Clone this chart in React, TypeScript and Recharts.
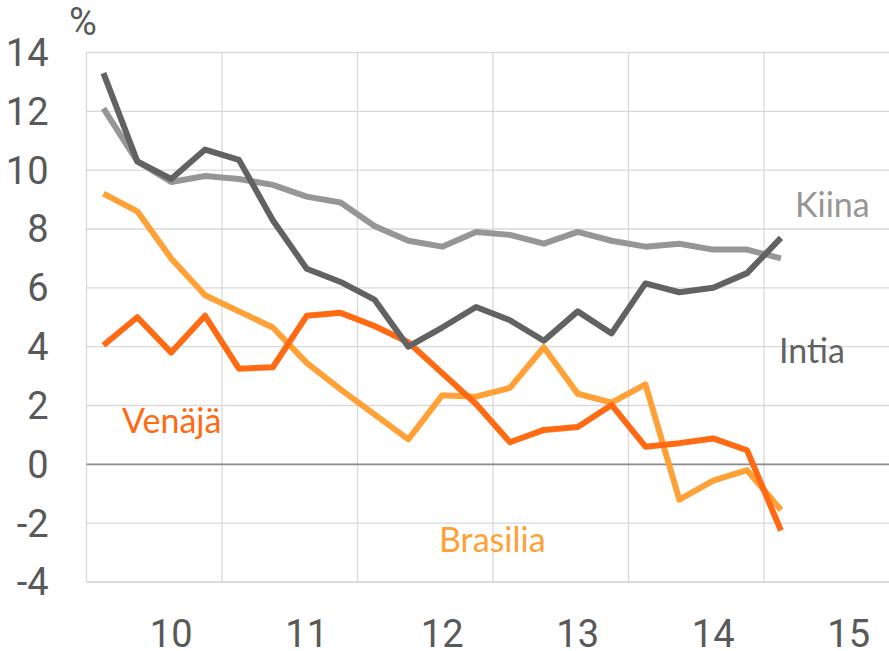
import React from 'react';
import { LineChart, Line, XAxis, YAxis, CartesianGrid, ReferenceLine } from 'recharts';

// Quarterly data 2010Q1 - 2015Q1, annual change %
const quarters = [
  '10Q1', '10Q2', '10Q3', '10Q4',
  '11Q1', '11Q2', '11Q3', '11Q4',
  '12Q1', '12Q2', '12Q3', '12Q4',
  '13Q1', '13Q2', '13Q3', '13Q4',
  '14Q1', '14Q2', '14Q3', '14Q4',
  '15Q1',
];
const kiina = [12.1, 10.3, 9.6, 9.8, 9.7, 9.5, 9.1, 8.9, 8.1, 7.6, 7.4, 7.9, 7.8, 7.5, 7.9, 7.6, 7.4, 7.5, 7.3, 7.3, 7.0];
const intia = [13.3, 10.3, 9.7, 10.7, 10.35, 8.3, 6.65, 6.2, 5.6, 4.0, 4.65, 5.35, 4.9, 4.2, 5.2, 4.45, 6.15, 5.85, 6.0, 6.5, 7.7];
const venaja = [4.05, 5.0, 3.8, 5.05, 3.25, 3.3, 5.05, 5.15, 4.7, 4.15, 3.1, 2.05, 0.75, 1.17, 1.27, 2.02, 0.6, 0.72, 0.88, 0.48, -2.25];
const brasilia = [9.2, 8.6, 7.0, 5.75, 5.2, 4.65, 3.45, 2.55, 1.7, 0.85, 2.35, 2.3, 2.6, 3.98, 2.4, 2.1, 2.72, -1.2, -0.55, -0.2, -1.55];
const yearLabels = ['10', '11', '12', '13', '14', '15'];
const yTicks = [-4, -2, 0, 2, 4, 6, 8, 10, 12, 14];

const QPY = 4;
const labelTicks = yearLabels.map((_, k) => k * QPY + 2);
const gridTicks = [...yearLabels, ''].map((_, k) => k * QPY - 0.5);
const xDomain = [-0.5, yearLabels.length * QPY - 0.5];

const data = quarters.map((q, i) => ({
  q: i,
  name: q,
  kiina: kiina[i],
  intia: intia[i],
  venaja: venaja[i],
  brasilia: brasilia[i],
}));

const tickFont = "'Liberation Sans Narrow', 'Arial Narrow', Roboto, sans-serif";
const labelFont = "Lato, 'Noto Sans', sans-serif";

const C_KIINA = '#969696';
const C_INTIA = '#626262';
const C_VENAJA = '#FF6A13';
const C_BRASILIA = '#FFA136';

const seriesLabel = (text: string, color: string, left: number, top: number) => (
  <div
    style={{
      position: 'absolute',
      left,
      top,
      fontFamily: labelFont,
      fontSize: 34,
      lineHeight: 1,
      color,
      whiteSpace: 'nowrap',
    }}
  >
    {text}
  </div>
);

export default function App() {
  return (
    <div style={{ position: 'fixed', left: 0, top: 0, width: 889, height: 651, overflow: 'hidden', background: '#fff' }}>
      <LineChart
        width={920}
        height={651}
        data={data}
        margin={{ top: 52.5, right: 20.5, left: 0, bottom: 9 }}
      >
        <CartesianGrid xAxisId="grid" stroke="#d9d9d9" strokeWidth={1.3} />
        <XAxis
          xAxisId="grid"
          dataKey="q"
          type="number"
          domain={xDomain}
          ticks={gridTicks}
          height={0}
          hide
        />
        <XAxis
          xAxisId="lab"
          dataKey="q"
          type="number"
          domain={xDomain}
          ticks={labelTicks}
          interval={0}
          tickFormatter={(v: number) => yearLabels[(v - 2) / QPY]}
          tickLine={false}
          tickSize={0}
          tickMargin={38}
          axisLine={{ stroke: '#d9d9d9', strokeWidth: 1.3 }}
          height={60}
          tick={{ fill: '#595959', fontSize: 38, fontFamily: tickFont }}
        />
        <YAxis
          domain={[-4, 14]}
          ticks={yTicks}
          interval={0}
          width={86.5}
          tickLine={false}
          tickSize={0}
          tickMargin={38}
          axisLine={false}
          tick={{ fill: '#595959', fontSize: 38, fontFamily: tickFont }}
        />
        <ReferenceLine xAxisId="lab" y={0} stroke="#8c8c8c" strokeWidth={1.6} />
        <Line xAxisId="lab" dataKey="kiina" stroke={C_KIINA} strokeWidth={6} dot={false} isAnimationActive={false} strokeLinejoin="round" />
        <Line xAxisId="lab" dataKey="brasilia" stroke={C_BRASILIA} strokeWidth={6} dot={false} isAnimationActive={false} strokeLinejoin="round" />
        <Line xAxisId="lab" dataKey="venaja" stroke={C_VENAJA} strokeWidth={6} dot={false} isAnimationActive={false} strokeLinejoin="round" />
        <Line xAxisId="lab" dataKey="intia" stroke={C_INTIA} strokeWidth={6} dot={false} isAnimationActive={false} strokeLinejoin="round" />
      </LineChart>
      <div
        style={{
          position: 'absolute',
          left: 69,
          top: 3,
          fontFamily: tickFont,
          fontSize: 38,
          lineHeight: 1,
          color: '#595959',
        }}
      >
        %
      </div>
      {seriesLabel('Kiina', C_KIINA, 795, 187)}
      {seriesLabel('Intia', C_INTIA, 779, 333)}
      {seriesLabel('Venäjä', C_VENAJA, 122, 403)}
      {seriesLabel('Brasilia', C_BRASILIA, 439, 522)}
    </div>
  );
}
